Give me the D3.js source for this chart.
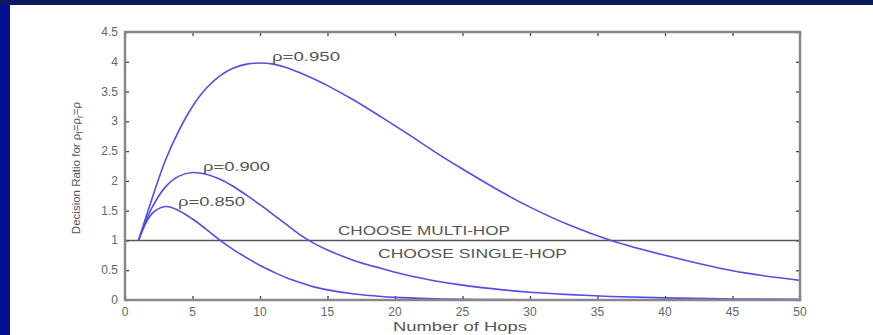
<!DOCTYPE html>
<html><head><meta charset="utf-8">
<script src="https://cdn.jsdelivr.net/npm/d3@7"></script>
<style>html,body{margin:0;padding:0;background:#fff;overflow:hidden}</style>
</head><body><svg id="c" width="873" height="335"></svg>
<script>
const hops = [1,2,3,4,5,6,7,8,9,10,11,12,13,14,15,17,19,21,23,25,28,30,33,36,40,45,50];
const rho950 = [1,1.7,2.35,2.85,3.25,3.55,3.76,3.89,3.96,3.98,3.96,3.9,3.81,3.71,3.6,3.35,3.07,2.78,2.48,2.2,1.8,1.56,1.25,1.0,0.75,0.49,0.33];
const rho900 = [1,1.55,1.9,2.08,2.14,2.11,2.03,1.91,1.76,1.6,1.43,1.26,1.09,0.95,0.84,0.66,0.53,0.41,0.32,0.25,0.17,0.13,0.09,0.06,0.035,0.018,0.01];
const rho850 = [1,1.45,1.57,1.5,1.36,1.19,1.01,0.85,0.71,0.58,0.47,0.37,0.29,0.22,0.17,0.1,0.06,0.035,0.02,0.012,0.006,0.004,0.002,0.001,0,0,0];
const seriesNames = ["ρ=0.950","ρ=0.900","ρ=0.850"];
const xTicks = [0,5,10,15,20,25,30,35,40,45,50];
const yTicks = [0,0.5,1,1.5,2,2.5,3,3.5,4,4.5];
const threshold = 1;

const svg = d3.select("#c");
svg.append("rect").attr("x",0).attr("y",0).attr("width",873).attr("height",335).attr("fill","#fff");
svg.append("rect").attr("x",0).attr("y",0).attr("width",10).attr("height",335).attr("fill","#000e8f");
svg.append("rect").attr("x",0).attr("y",0).attr("width",873).attr("height",5).attr("fill","#0b1a5e");

const L=125,R=800,T=32,B=300;
const x = d3.scaleLinear().domain([0,50]).range([L,R]);
const y = d3.scaleLinear().domain([0,4.5]).range([B,T]);
const axisCol = "#888";
const font = "Liberation Sans, Arial, sans-serif";

const g = svg.append("g");
const ax = d3.axisBottom(x).tickValues(xTicks).tickSize(-4).tickFormat("");
const ax2 = d3.axisTop(x).tickValues(xTicks).tickSize(-4).tickFormat("");
const ay = d3.axisLeft(y).tickValues(yTicks).tickSize(-4).tickFormat("");
const ay2 = d3.axisRight(y).tickValues(yTicks).tickSize(-4).tickFormat("");
[[ax,`translate(0,${B})`],[ax2,`translate(0,${T})`],[ay,`translate(${L},0)`],[ay2,`translate(${R},0)`]].forEach(([a,t])=>{
  const gg = g.append("g").attr("transform",t).call(a);
  gg.select(".domain").remove();
  gg.selectAll(".tick line").attr("stroke","#444").attr("stroke-width",1.3);
});

svg.append("g").selectAll("text").data(xTicks).join("text")
  .attr("x",d=>x(d)).attr("y",316).attr("text-anchor","middle")
  .attr("font-family",font).attr("font-size",12).attr("fill","#666").text(d=>d);
svg.append("g").selectAll("text").data(yTicks).join("text")
  .attr("x",118).attr("y",d=>y(d)+4).attr("text-anchor","end")
  .attr("font-family",font).attr("font-size",12).attr("fill","#666").text(d=>d);

svg.append("line").attr("x1",x(0)).attr("x2",x(50)).attr("y1",y(threshold)).attr("y2",y(threshold))
  .attr("stroke","#555").attr("stroke-width",1.6);

const line = d3.line().x((d,i)=>x(hops[i])).y(d=>y(d)).curve(d3.curveCatmullRom.alpha(0.5));
[rho950,rho900,rho850].forEach(s=>{
  svg.append("path").attr("d",line(s)).attr("fill","none").attr("stroke","#4f4fe6").attr("stroke-width",1.6);
});

svg.append("rect").attr("x",L).attr("y",T).attr("width",R-L).attr("height",B-T)
  .attr("fill","none").attr("stroke",axisCol).attr("stroke-width",2.5);

const ann = [
  {t:seriesNames[0],x:272,y:61,w:68},
  {t:seriesNames[1],x:203,y:171,w:67},
  {t:seriesNames[2],x:178,y:206,w:67},
  {t:"CHOOSE MULTI-HOP",x:338,y:235,w:172},
  {t:"CHOOSE SINGLE-HOP",x:378,y:258,w:189}
];
svg.append("g").selectAll("text").data(ann).join("text")
  .attr("x",d=>d.x).attr("y",d=>d.y).attr("font-family",font).attr("font-size",12.5)
  .attr("fill","#555").attr("textLength",d=>d.w).attr("lengthAdjust","spacingAndGlyphs").text(d=>d.t);

svg.append("text").attr("x",460).attr("y",331).attr("text-anchor","middle")
  .attr("font-family",font).attr("font-size",12).attr("fill","#555")
  .attr("textLength",134).attr("lengthAdjust","spacingAndGlyphs").text("Number of Hops");

const yl = svg.append("text").attr("transform","translate(80,168) rotate(-90)").attr("text-anchor","middle")
  .attr("font-family",font).attr("font-size",11.5).attr("fill","#555");
yl.append("tspan").text("Decision Ratio for ρ");
yl.append("tspan").attr("font-size",8.5).attr("dy",3).text("f");
yl.append("tspan").attr("dy",-3).text("=ρ");
yl.append("tspan").attr("font-size",8.5).attr("dy",3).text("r");
yl.append("tspan").attr("dy",-3).text("=ρ");
</script></body></html>
